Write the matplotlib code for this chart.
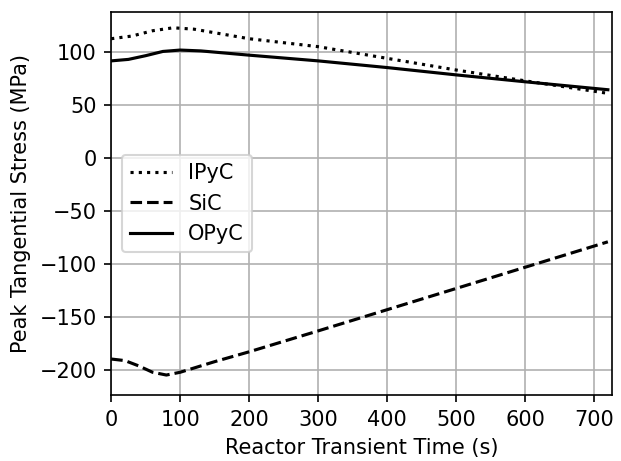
import matplotlib
matplotlib.use("Agg")
import matplotlib.pyplot as plt

time_ipyc = [0, 30, 60, 90, 120, 200, 300, 400, 500, 600, 720]
ipyc = [112.5, 115, 120, 122.8, 121.5, 112.5, 105, 94, 83, 72.8, 61]

time_opyc = [0, 25, 50, 75, 100, 130, 200, 300, 400, 500, 600, 720]
opyc = [91.6, 93, 96.5, 100.5, 101.8, 101, 97, 91.6, 85.3, 78.4, 71.9, 64.4]

time_sic = [0, 20, 40, 60, 80, 100, 150, 200, 300, 400, 500, 600, 720]
sic = [-189.5, -191, -196, -202, -204.6, -202, -192, -182.7, -163, -143, -123, -103, -79]

DPI = 150
fig = plt.figure(figsize=(621 / DPI, 461 / DPI), dpi=DPI)
ax = fig.add_axes([0.179, 0.143, 0.9855 - 0.179, 0.974 - 0.143])

ax.plot(time_ipyc, ipyc, ':', color='black', lw=1.5, label='IPyC')
ax.plot(time_sic, sic, '--', color='black', lw=1.5, label='SiC')
ax.plot(time_opyc, opyc, '-', color='black', lw=1.5, label='OPyC')

ax.set_xlim(0, 726)
ax.set_ylim(-223.5, 137.7)
ax.set_xticks(range(0, 701, 100))
ax.set_yticks(range(-200, 101, 50))
ax.grid(True, color='#b0b0b0', lw=0.8)
ax.set_axisbelow(True)
ax.set_xlabel('Reactor Transient Time (s)')
ax.set_ylabel('Peak Tangential Stress (MPa)')
ax.legend(loc='center left')

fig.savefig('out.png', dpi=DPI)
